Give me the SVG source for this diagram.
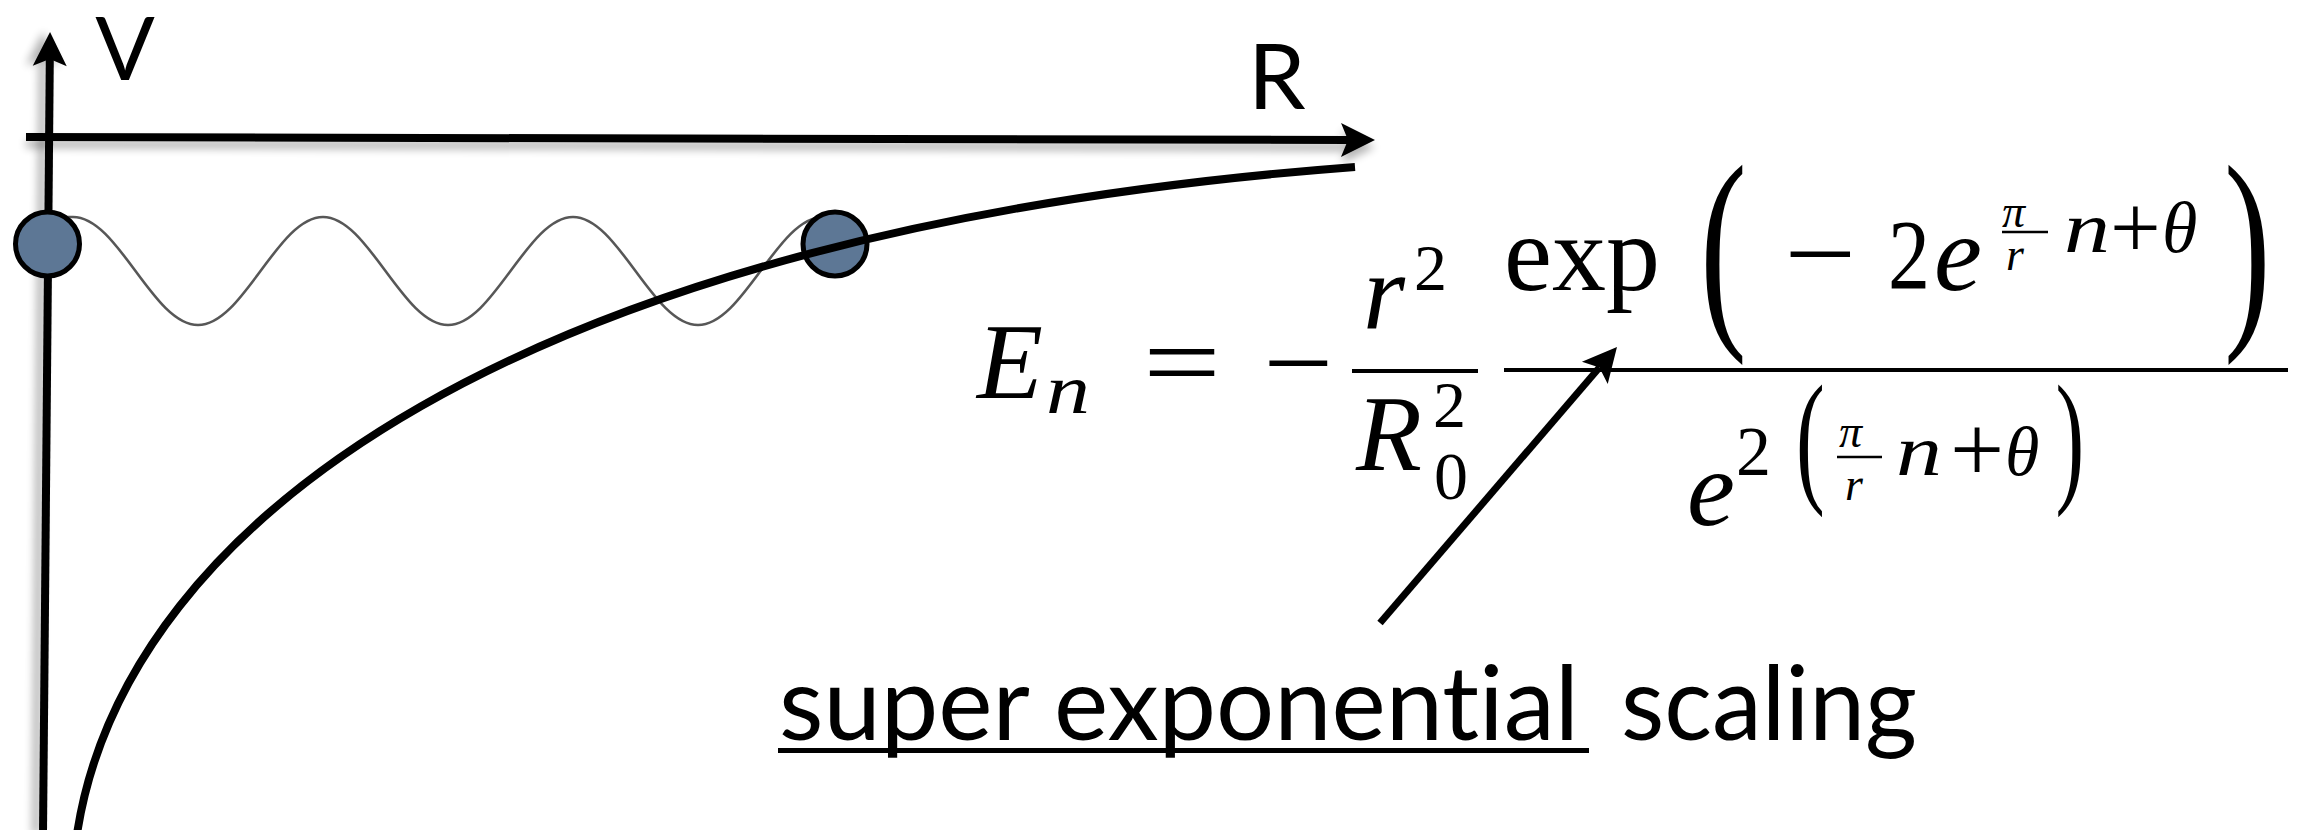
<svg xmlns="http://www.w3.org/2000/svg" width="2311" height="830" viewBox="0 0 2311 830">
<style>
.ax{stroke:#000;stroke-width:8;fill:none}
.lbl{font-family:Lato,"Open Sans","Liberation Sans",sans-serif;fill:#000;font-variant-ligatures:none;font-feature-settings:"liga" 0,"clig" 0}
.m{font-family:"Liberation Serif","Times New Roman",serif;fill:#000}
.i{font-style:italic}
.rule{stroke:#000;stroke-width:4}
.srule{stroke:#000;stroke-width:2.5}
.ptc{fill:#5d7795;stroke:#000;stroke-width:5}
</style>
<defs>
<marker id="ah" markerUnits="userSpaceOnUse" markerWidth="40" markerHeight="40" viewBox="-10 -20 40 40" refX="0" refY="0" orient="auto"><path d="M27,0 L-7,-17 L0,0 L-7,17 Z" fill="#000"/></marker>
<filter id="shD" filterUnits="userSpaceOnUse" x="0" y="0" width="2311" height="830">
<feGaussianBlur in="SourceAlpha" stdDeviation="4"/><feOffset dx="0" dy="7"/><feComponentTransfer><feFuncA type="linear" slope="0.3"/></feComponentTransfer>
<feMerge><feMergeNode/><feMergeNode in="SourceGraphic"/></feMerge></filter>
<filter id="shL" filterUnits="userSpaceOnUse" x="0" y="0" width="2311" height="830">
<feGaussianBlur in="SourceAlpha" stdDeviation="4"/><feOffset dx="-7" dy="0"/><feComponentTransfer><feFuncA type="linear" slope="0.3"/></feComponentTransfer>
<feMerge><feMergeNode/><feMergeNode in="SourceGraphic"/></feMerge></filter>
</defs>
<rect width="2311" height="830" fill="#fff"/>

<g id="wave">
<path d="M 62 217 L 73 217 C 118.4 217 152.6 325 198 325 S 277.6 217 323 217 S 402.6 325 448 325 S 527.6 217 573 217 S 652.6 325 698 325 S 777.6 217 823 217" fill="none" stroke="#3a3a3a" stroke-width="2.6" stroke-opacity="0.85"/>
</g>

<g id="axis-V" filter="url(#shL)">
<line class="ax" x1="43" y1="834" x2="49.8" y2="59" marker-end="url(#ah)"/>
</g>
<g id="axis-R" filter="url(#shD)">
<line class="ax" x1="26" y1="137" x2="1348" y2="140" stroke-width="7.5" marker-end="url(#ah)"/>
</g>

<g id="particle-1"><circle class="ptc" cx="47.5" cy="244" r="32"/></g>
<g id="particle-2"><circle class="ptc" cx="835" cy="244" r="32"/></g>

<g id="potential">
<path d="M 77 834 C 125 520 520 230 1355 167" class="ax"/>
</g>

<g id="label-V"><text class="lbl" x="125" y="80" font-size="88" text-anchor="middle">V</text></g>
<g id="label-R"><text class="lbl" x="1248" y="109" font-size="92">R</text></g>

<g id="equation">
<text class="m i" x="977" y="398" font-size="108">E</text>
<text class="m i" x="1046" y="413" font-size="70" textLength="44" lengthAdjust="spacingAndGlyphs">n</text>
<text class="m" x="1143" y="398" font-size="108" textLength="78" lengthAdjust="spacingAndGlyphs">=</text>
<text class="m" x="1263" y="399" font-size="108" textLength="70" lengthAdjust="spacingAndGlyphs">−</text>
<line class="rule" x1="1352" y1="371" x2="1478" y2="371"/>
<text class="m i" x="1363" y="328" font-size="108">r</text>
<text class="m" x="1414" y="290" font-size="66">2</text>
<text class="m i" x="1356" y="470" font-size="108">R</text>
<text class="m" x="1433" y="427" font-size="66">2</text>
<text class="m" x="1434" y="499" font-size="68">0</text>
<line class="rule" x1="1504" y1="370" x2="2288" y2="370"/>
<text class="m" x="1504" y="290" font-size="108">exp</text>
<text class="m" transform="translate(1700 317.7) scale(1.3 2.05)" font-size="108">(</text>
<text class="m" x="1784" y="290" font-size="108" textLength="72" lengthAdjust="spacingAndGlyphs">−</text>
<text class="m" x="1888" y="288" font-size="100" textLength="42" lengthAdjust="spacingAndGlyphs">2</text>
<text class="m i" x="1934" y="290" font-size="108">e</text>
<text class="m i" x="2002" y="227" font-size="46">π</text>
<line class="srule" x1="2002" y1="232" x2="2048" y2="232"/>
<text class="m i" x="2006" y="270" font-size="46">r</text>
<text class="m i" x="2064" y="252" font-size="72" textLength="46" lengthAdjust="spacingAndGlyphs">n</text>
<text class="m" x="2110" y="258" font-size="90">+</text>
<text class="m i" x="2162" y="252" font-size="72">θ</text>
<text class="m" transform="translate(2224 317.7) scale(1.3 2.05)" font-size="108">)</text>
<text class="m i" x="1687" y="525" font-size="108">e</text>
<text class="m" x="1736" y="475" font-size="70">2</text>
<text class="m" transform="translate(1796 486) scale(0.8 1.357)" font-size="108">(</text>
<text class="m i" x="1839" y="447" font-size="46">π</text>
<line class="srule" x1="1837" y1="457" x2="1882" y2="457"/>
<text class="m i" x="1845" y="500" font-size="46">r</text>
<text class="m i" x="1896" y="475" font-size="72" textLength="46" lengthAdjust="spacingAndGlyphs">n</text>
<text class="m" x="1950" y="481" font-size="96">+</text>
<text class="m i" x="2005" y="475" font-size="70">θ</text>
<text class="m" transform="translate(2055.5 486) scale(0.8 1.357)" font-size="108">)</text>
</g>

<g id="label-scaling">
<text class="lbl" x="779" y="740" font-size="103" textLength="800" lengthAdjust="spacingAndGlyphs">super exponential</text>
<text class="lbl" x="1621" y="740" font-size="103" textLength="296" lengthAdjust="spacingAndGlyphs">scaling</text>
<line x1="778" y1="750.5" x2="1589" y2="750.5" stroke="#000" stroke-width="5"/>
</g>

<g id="connectors">
<line x1="1380" y1="623" x2="1599.4" y2="367.5" stroke="#000" stroke-width="7" marker-end="url(#ah)"/>
</g>
</svg>
